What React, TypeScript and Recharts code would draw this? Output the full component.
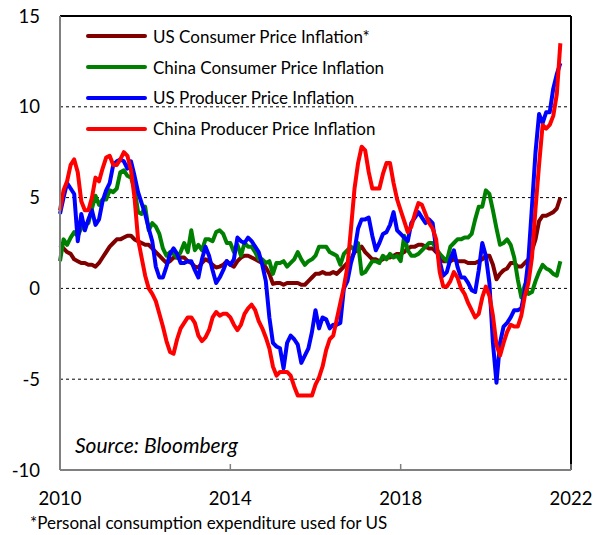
import React from "react";
import { CartesianGrid, Line, LineChart, ReferenceLine, XAxis, YAxis } from "recharts";

// monthly y/y %, Jan 2010 .. Oct 2021
const START_YEAR = 2010;

const usCpi = [
  2.4, 2.2, 2.0, 1.9, 1.6, 1.5, 1.4, 1.4, 1.3, 1.3, 1.2, 1.4,
  1.7, 2.0, 2.3, 2.5, 2.7, 2.7, 2.8, 2.9, 2.9, 2.7, 2.6, 2.5,
  2.4, 2.4, 2.2, 2.0, 1.8, 1.6, 1.4, 1.5, 1.7, 1.7, 1.7, 1.7,
  1.5, 1.4, 1.2, 1.15, 1.4, 1.6, 1.5, 1.3, 1.15, 1.2, 1.3, 1.5,
  1.3, 1.2, 1.5, 1.7, 1.8, 1.8, 1.7, 1.6, 1.5, 1.4, 1.15, 0.8,
  0.25, 0.3, 0.3, 0.2, 0.3, 0.3, 0.3, 0.3, 0.2, 0.2, 0.4, 0.6,
  0.8, 0.8, 0.9, 0.8, 0.8, 0.9, 0.8, 1.0, 1.2, 1.4, 1.6, 2.0,
  2.1, 2.3, 2.0, 1.8, 1.6, 1.6, 1.5, 1.6, 1.7, 1.7, 1.8, 1.9,
  1.9, 2.0, 2.2, 2.3, 2.3, 2.4, 2.4, 2.3, 2.2, 2.2, 2.0, 1.9,
  1.5, 1.5, 1.5, 1.6, 1.5, 1.5, 1.5, 1.4, 1.4, 1.4, 1.5, 1.6,
  1.8, 1.8, 1.3, 0.5, 0.8, 1.0, 1.1, 1.4, 1.4, 1.2, 1.2, 1.4,
  1.6, 2.1, 2.7, 3.7, 4.0, 4.0, 4.1, 4.2, 4.4, 5.0,
];

const chinaCpi = [
  1.5, 2.7, 2.4, 2.8, 3.1, 2.9, 3.3, 3.5, 3.6, 4.4, 5.1, 4.6,
  4.9, 4.9, 5.4, 5.3, 5.5, 6.4, 6.5, 6.2, 6.1, 5.5, 4.2, 4.1,
  4.5, 3.2, 3.6, 3.4, 3.0, 2.2, 1.8, 2.0, 1.9, 1.7, 2.0, 2.5,
  2.0, 3.2, 2.1, 2.4, 2.1, 2.7, 2.7, 2.6, 3.1, 3.2, 3.0, 2.5,
  2.5, 2.0, 2.4, 1.8, 2.5, 2.3, 2.3, 2.0, 1.6, 1.6, 1.4, 1.5,
  0.8, 1.4, 1.4, 1.5, 1.2, 1.4, 1.6, 2.0, 1.6, 1.3, 1.5, 1.6,
  1.8, 2.3, 2.3, 2.3, 2.0, 1.9, 1.8, 1.3, 1.9, 2.1, 2.3, 2.1,
  2.5, 0.8, 0.9, 1.2, 1.5, 1.5, 1.4, 1.8, 1.6, 1.9, 1.7, 1.8,
  1.5, 2.9, 2.1, 1.8, 1.8, 1.9, 2.1, 2.3, 2.5, 2.5, 2.2, 1.9,
  1.7, 1.5, 2.3, 2.5, 2.7, 2.7, 2.8, 2.8, 3.0, 3.8, 4.5, 4.5,
  5.4, 5.2, 4.3, 3.3, 2.4, 2.5, 2.7, 2.4, 1.7, 0.5, -0.5, 0.2,
  -0.3, -0.2, 0.4, 0.9, 1.3, 1.1, 1.0, 0.8, 0.7, 1.5,
];

const usPpi = [
  4.1, 5.0, 5.8, 5.5, 5.2, 2.6, 4.1, 3.2, 3.8, 4.3, 3.5, 3.8,
  4.8, 5.4, 5.8, 6.8, 7.0, 7.1, 7.0, 6.6, 7.0, 6.2, 5.3, 4.7,
  4.1, 3.3, 2.6, 1.2, 0.6, 0.6, 1.2, 1.9, 2.2, 1.9, 1.4, 1.4,
  1.5, 1.5, 1.0, 0.6, 1.6, 2.3, 1.8, 1.0, 0.3, 0.6, 1.0, 1.5,
  1.3, 1.6, 2.8, 2.6, 2.5, 2.8, 2.6, 2.3, 2.0, 1.3, 0.4, -1.6,
  -3.0, -3.2, -3.3, -4.4, -3.0, -2.6, -2.8, -3.1, -4.1, -3.7, -3.3, -2.4,
  -1.2, -2.2, -1.6, -1.7, -2.2, -2.0, -2.0, -1.9, 0.0, 0.4, 1.4, 2.1,
  3.3, 3.8, 3.8, 3.9, 2.9, 2.1, 2.5, 3.0, 3.1, 3.5, 4.2, 3.2,
  3.0, 2.8, 2.6, 3.6, 3.9, 4.2, 3.9, 3.6, 3.8, 3.6, 2.2, 1.5,
  0.7, 0.9, 1.6, 2.1, 1.2, 0.6, 0.6, 0.3, -0.1, -0.2, 1.0, 2.5,
  1.8, 0.3, -3.0, -5.2, -3.0, -2.1, -1.9, -1.6, -1.2, -1.2, -1.1, -0.1,
  1.6, 4.5, 7.5, 9.6, 9.1, 9.7, 9.7, 11.0, 11.8, 12.4,
];

const chinaPpi = [
  4.3, 5.4, 5.9, 6.8, 7.1, 6.4, 4.8, 4.3, 4.3, 5.0, 6.1, 5.9,
  6.6, 7.2, 7.3, 6.8, 6.8, 7.1, 7.5, 7.3, 6.5, 5.0, 2.7, 1.7,
  0.7, 0.0, -0.3, -0.7, -1.4, -2.1, -2.9, -3.5, -3.6, -2.8, -2.2, -1.9,
  -1.6, -1.6, -1.9, -2.6, -2.9, -2.7, -2.3, -1.6, -1.3, -1.5, -1.4, -1.4,
  -1.6, -2.0, -2.3, -2.0, -1.4, -1.1, -0.9, -1.2, -1.8, -2.2, -2.7, -3.3,
  -4.3, -4.8, -4.6, -4.6, -4.6, -4.8, -5.4, -5.9, -5.9, -5.9, -5.9, -5.9,
  -5.3, -4.9, -4.3, -3.4, -2.8, -2.6, -1.7, -0.8, 0.1, 1.2, 3.3, 5.5,
  6.9, 7.8, 7.6, 6.4, 5.5, 5.5, 5.5, 6.3, 6.9, 6.9, 5.8, 4.9,
  4.3, 3.7, 3.1, 3.4, 4.1, 4.7, 4.6, 4.1, 3.6, 3.3, 2.7, 0.9,
  0.1, 0.1, 0.4, 0.9, 0.6, 0.0, -0.3, -0.8, -1.2, -1.6, -1.4, -0.5,
  0.1, -0.4, -1.5, -3.1, -3.7, -3.0, -2.4, -2.0, -2.1, -2.1, -1.5, -0.4,
  0.3, 1.7, 4.4, 6.8, 9.0, 8.8, 9.0, 9.5, 10.7, 13.5,
];

const yearTicks = [2010, 2014, 2018, 2022];
const valueTicks = [-10, -5, 0, 5, 10, 15];
const gridValues = [-5, 0, 5, 10];

const series = [
  { key: "usCpi", name: "US Consumer Price Inflation*", color: "#800000" },
  { key: "chinaCpi", name: "China Consumer Price Inflation", color: "#008000" },
  { key: "usPpi", name: "US Producer Price Inflation", color: "#0000ff" },
  { key: "chinaPpi", name: "China Producer Price Inflation", color: "#ff0000" },
];

const data = usCpi.map((v, i) => ({
  t: START_YEAR + i / 12,
  usCpi: v,
  chinaCpi: chinaCpi[i],
  usPpi: usPpi[i],
  chinaPpi: chinaPpi[i],
}));

const FONT = "Lato, 'Open Sans', sans-serif";

export default function App() {
  return (
    <div style={{ position: "absolute", left: 0, top: 0, width: 601, height: 535, background: "#fff", fontFamily: FONT }}>
      <LineChart width={601} height={535} data={data} margin={{ top: 16, right: 30, bottom: 0, left: 0 }}>
        <CartesianGrid vertical={false} horizontalValues={gridValues} stroke="#000" strokeDasharray="3 3" />
        <XAxis
          dataKey="t"
          type="number"
          domain={[2010, 2022]}
          ticks={yearTicks}
          height={65}
          axisLine={{ stroke: "#808080", strokeWidth: 2 }}
          tickLine={{ stroke: "#808080", strokeWidth: 1.5 }}
          tickSize={-6}
          tickMargin={28}
          tick={{ fill: "#000", fontSize: 18.5, fontFamily: FONT }}
        />
        <YAxis
          type="number"
          domain={[-10, 15]}
          ticks={valueTicks}
          width={60}
          axisLine={{ stroke: "#808080", strokeWidth: 2 }}
          tickLine={false}
          tickSize={0}
          tickMargin={20}
          tick={{ fill: "#000", fontSize: 18.5, fontFamily: FONT }}
        />
        {series.map((s) => (
          <Line
            key={s.key}
            dataKey={s.key}
            name={s.name}
            type="linear"
            stroke={s.color}
            strokeWidth={4}
            dot={false}
            strokeLinejoin="round"
            isAnimationActive={false}
          />
        ))}
        <ReferenceLine y={15} stroke="#000" strokeWidth={2} />
        <ReferenceLine x={2022} stroke="#000" strokeWidth={2} />
      </LineChart>

      {/* legend */}
      <div style={{ position: "absolute", left: 86, top: 21 }}>
        {series.map((s) => (
          <div key={s.key} style={{ display: "flex", alignItems: "center", height: 30.8 }}>
            <div style={{ width: 61, height: 4, borderRadius: 2, background: s.color, marginRight: 6 }} />
            <span style={{ fontSize: 17, color: "#000", whiteSpace: "nowrap" }}>{s.name}</span>
          </div>
        ))}
      </div>

      <div style={{ position: "absolute", left: 75, top: 432, fontSize: 21, fontStyle: "italic", color: "#000" }}>
        Source: Bloomberg
      </div>
      <div style={{ position: "absolute", left: 30, top: 513, fontSize: 17, lineHeight: "20px", color: "#000", whiteSpace: "nowrap" }}>
        *Personal consumption expenditure used for US
      </div>
    </div>
  );
}
